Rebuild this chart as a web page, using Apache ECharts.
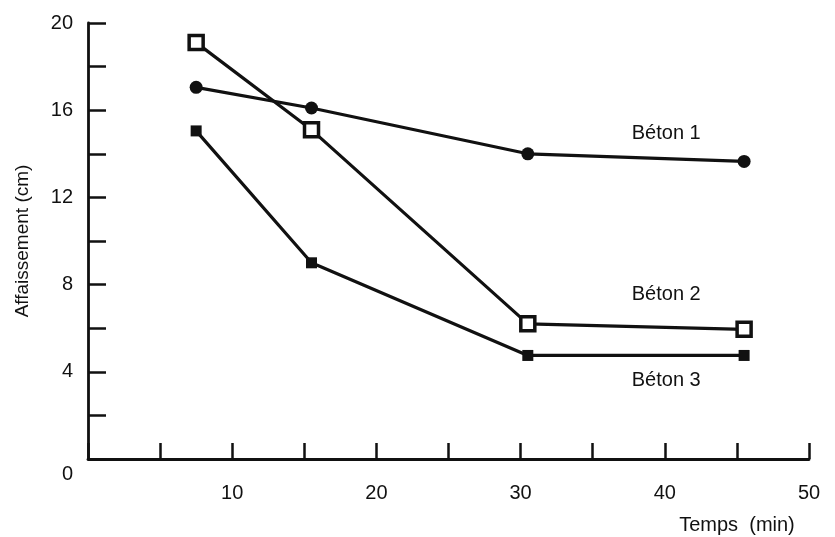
<!DOCTYPE html>
<html><head><meta charset="utf-8">
<script src="https://cdn.jsdelivr.net/npm/echarts@6/dist/echarts.min.js"></script>
<style>html,body{margin:0;padding:0;background:#fff}#c{width:835px;height:537px}</style>
</head><body><div id="c"></div>
<script>
const beton1 = [[7.5, 17.05], [15.5, 16.1], [30.5, 14.0], [45.5, 13.65]];
const beton2 = [[7.5, 19.1], [15.5, 15.1], [30.5, 6.2], [45.5, 5.95]];
const beton3 = [[7.5, 15.05], [15.5, 9.0], [30.5, 4.75], [45.5, 4.75]];
const seriesNames = ['Béton 1', 'Béton 2', 'Béton 3'];
const seriesLabelAt = [[40.1, 14.95], [40.1, 7.55], [40.1, 3.6]];
const yAxisName = 'Affaissement (cm)';
const xAxisName = 'Temps  (min)';

const FONT = '"Liberation Sans", Arial, sans-serif';
const INK = '#111';
const FS = 20;
const chart = echarts.init(document.getElementById('c'), null, {renderer: 'canvas'});

function mkSeries(name, data, symbol, size, fill, labelAt) {
  return {
    name: name, type: 'line', data: data,
    symbol: symbol, symbolSize: size,
    itemStyle: {color: fill, borderColor: INK, borderWidth: fill === '#fff' ? 3.5 : 0},
    lineStyle: {color: INK, width: 3.2},
    z: 3,
    markPoint: {
      symbol: 'circle', symbolSize: 0,
      data: [{coord: labelAt}],
      label: {show: true, position: 'inside', formatter: name, color: INK, fontSize: FS, fontFamily: FONT}
    }
  };
}

chart.setOption({
  backgroundColor: '#fff',
  animation: false,
  grid: {left: 88, top: 23, right: 26, bottom: 78},
  xAxis: {
    type: 'value', min: 0, max: 50, interval: 5,
    name: xAxisName, nameLocation: 'end', nameGap: -72,
    nameTextStyle: {align: 'center', verticalAlign: 'top', padding: [56, 0, 0, 0], color: INK, fontSize: FS, fontFamily: FONT},
    axisLine: {lineStyle: {color: INK, width: 2.8}},
    axisTick: {inside: true, length: 16, lineStyle: {color: INK, width: 2.5}},
    axisLabel: {margin: 24, color: INK, fontSize: FS, fontFamily: FONT,
      formatter: v => (v > 0 && v % 10 === 0) ? String(v) : ''},
    splitLine: {show: false}
  },
  yAxis: {
    type: 'value', min: 0, max: 20, interval: 2,
    name: yAxisName, nameLocation: 'middle', nameGap: 56, nameRotate: 90,
    nameTextStyle: {color: INK, fontSize: FS - 1, fontFamily: FONT},
    axisLine: {lineStyle: {color: INK, width: 2.8}},
    axisTick: {inside: true, length: 18, lineStyle: {color: INK, width: 2.5}},
    axisLabel: {margin: 15, color: INK, fontSize: FS, fontFamily: FONT,
      formatter: v => v === 0 ? '{z|0}' : (v % 4 === 0 ? String(v) : ''),
      rich: {z: {padding: [30, 0, 0, 0], color: INK, fontSize: FS, fontFamily: FONT}}},
    splitLine: {show: false}
  },
  series: [
    mkSeries(seriesNames[0], beton1, 'circle', 13, INK, seriesLabelAt[0]),
    mkSeries(seriesNames[1], beton2, 'rect', 14, '#fff', seriesLabelAt[1]),
    mkSeries(seriesNames[2], beton3, 'rect', 11, INK, seriesLabelAt[2])
  ]
});
</script></body></html>
